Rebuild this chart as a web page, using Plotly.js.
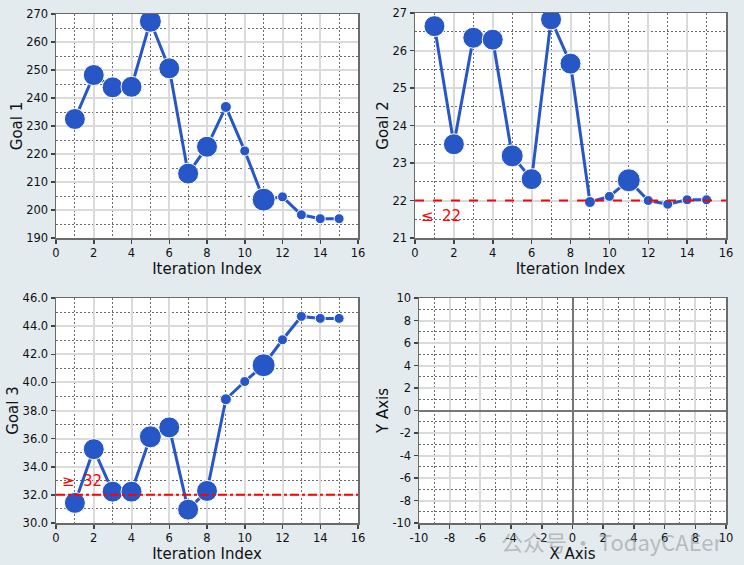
<!DOCTYPE html>
<html><head><meta charset="utf-8">
<script src="https://cdn.plot.ly/plotly-3.0.1.min.js"></script>
<style>html,body{margin:0;padding:0;background:#e3ebef;}</style>
</head><body>
<div id="chart" style="width:744px;height:565px;"></div>
<script>
// ---- data ----
const iterations = [1,2,3,4,5,6,7,8,9,10,11,12,13,14,15];
const goal1 = [232.5,248.2,243.8,244.0,267.4,250.6,213.0,222.6,236.8,221.1,203.7,204.7,198.3,196.9,196.9];
const goal2 = [26.65,23.50,26.34,26.29,23.19,22.57,26.83,25.65,21.96,22.11,22.54,22.00,21.90,22.02,22.02];
const goal3 = [31.43,35.25,32.23,32.23,36.13,36.80,30.95,32.28,38.80,40.06,41.22,43.03,44.69,44.55,44.55];
const markerSizes = [21,21,21,21,22,21,21,21,11,10,23,10,10,10,10];
const goal2Limit = 22;
const goal3Limit = 32;
const goal2Symbol = "≤", goal2Text = "22";
const goal3Symbol = "≥", goal3Text = "32";
const gridTickVals = [-10,-8,-6,-4,-2,0,2,4,6,8,10];
const gridTickText = ["-10","-8","-6","-4","-2","0","2","4","6","8","10"];

// ---- style ----
const blue = "#2757c6";
const font = "DejaVu Sans, Verdana, sans-serif";
const W = 744, H = 565;
function dx(a,b){return [a/W, b/W];}
function dy(top,bottom){return [1-bottom/H, 1-top/H];}

function axis(domain, range, dtick, minorDtick, title, anchor, standoff, extra){
  return Object.assign({
    domain: domain, range: range, dtick: dtick, tick0: 0, autorange: false,
    showgrid: true, gridcolor: "#dadada", gridwidth: 2,
    minor: {dtick: minorDtick, showgrid: true, gridcolor: "#6a6a6a", griddash: "2px,2px", gridwidth: 1},
    showline: true, mirror: true, linecolor: "#6a6a6a", linewidth: 1.5,
    ticks: "outside", ticklen: 4, tickcolor: "#444", tickwidth: 1.5,
    tickfont: {family: font, size: 11.5, color: "#111"},
    zeroline: false, anchor: anchor,
    title: {text: title, font: {family: font, size: 15, color: "#111"}, standoff: standoff},
    automargin: false, fixedrange: true
  }, extra || {});
}

function series(y, xa, ya){
  return {x: iterations, y: y, xaxis: xa, yaxis: ya, type: "scatter", mode: "lines+markers",
    line: {color: blue, width: 3}, marker: {color: blue, size: markerSizes, opacity: 1}, opacity: 1,
    showlegend: false, hoverinfo: "x+y"};
}

const data = [
  series(goal1, "x", "y"),
  series(goal2, "x2", "y2"),
  series(goal3, "x3", "y3"),
  {x: [], y: [], xaxis: "x4", yaxis: "y4", type: "scatter", mode: "markers", showlegend: false}
];

const gridExtra = {tickmode: "array", tickvals: gridTickVals, ticktext: gridTickText,
  zeroline: true, zerolinecolor: "#777", zerolinewidth: 2};

function redLabel(xa, ya, x, y, txt){
  return {xref: xa, yref: ya, x: x, y: y, text: txt, showarrow: false,
    xanchor: "left", yanchor: "middle", font: {family: font, size: 15, color: "#ff0000"}};
}

const layout = {
  width: W, height: H,
  margin: {l:0, r:0, t:0, b:0},
  paper_bgcolor: "#e3ebef", plot_bgcolor: "#ffffff",
  showlegend: false,
  xaxis:  axis(dx(56,358), [0,16], 2, 1, "Iteration Index", "y", 2),
  yaxis:  axis(dy(14,238), [190,270], 10, 5, "Goal 1", "x", 0),
  xaxis2: axis(dx(415,726), [0,16], 2, 1, "Iteration Index", "y2", 2),
  yaxis2: axis(dy(13,238), [21,27], 1, 0.5, "Goal 2", "x2", 0),
  xaxis3: axis(dx(56,358), [0,16], 2, 1, "Iteration Index", "y3", 2),
  yaxis3: axis(dy(298,523), [30,46], 2, 1, "Goal 3", "x3", 0, {tickformat: ".1f"}),
  xaxis4: axis(dx(419,726), [-10,10], 2, 1, "X Axis", "y4", 2, gridExtra),
  yaxis4: axis(dy(298,523), [-10,10], 2, 1, "Y Axis", "x4", 0, gridExtra),
  shapes: [
    {type: "line", xref: "x2 domain", yref: "y2", x0: 0, x1: 1, y0: goal2Limit, y1: goal2Limit,
     line: {color: "#ff0000", width: 2, dash: "dash"}},
    {type: "line", xref: "x3 domain", yref: "y3", x0: 0, x1: 1, y0: goal3Limit, y1: goal3Limit,
     line: {color: "#ff0000", width: 2, dash: "dashdot"}}
  ],
  annotations: [
    redLabel("x2", "y2", 0.2, goal2Limit - 0.4, goal2Symbol),
    redLabel("x2", "y2", 1.3, goal2Limit - 0.4, goal2Text),
    redLabel("x3", "y3", 0.2, goal3Limit + 1.0, goal3Symbol),
    redLabel("x3", "y3", 1.35, goal3Limit + 1.0, goal3Text),
    {xref: "paper", yref: "paper", x: 612/W, y: 1-541/H, text: "公众号 · TodayCAEer", showarrow: false,
     xanchor: "center", yanchor: "middle", opacity: 0.5,
     font: {family: "Noto Sans CJK SC, DejaVu Sans, sans-serif", size: 22, color: "#8c8c8c"}}
  ]
};

Plotly.newPlot("chart", data, layout, {staticPlot: true, displayModeBar: false});
</script>
</body></html>
